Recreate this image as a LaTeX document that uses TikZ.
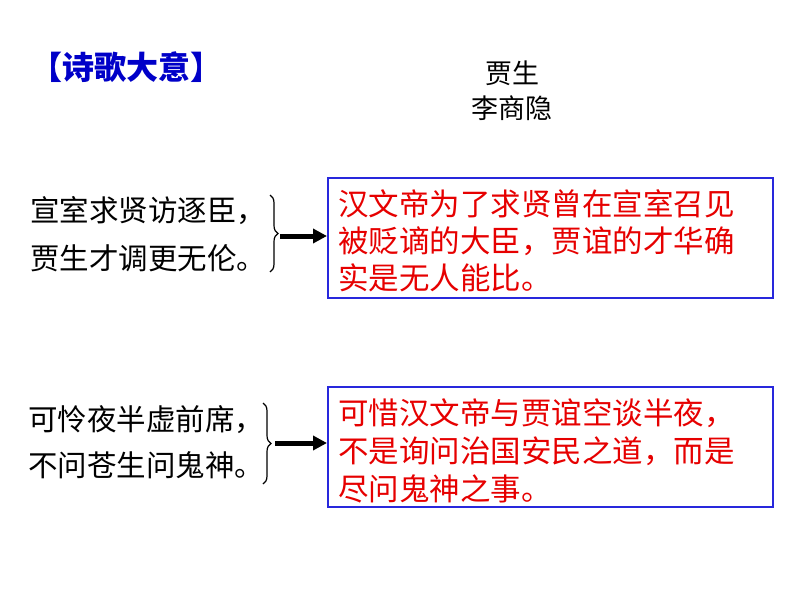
\documentclass[tikz,border=0pt]{standalone}
\usepackage{fontspec}
\setmainfont{Noto Sans CJK SC}
\usetikzlibrary{decorations.pathreplacing,arrows.meta}
\begin{document}
\begin{tikzpicture}[x=1pt,y=-1pt,
  txt/.style={anchor=west,inner sep=0pt,font=\fontsize{29.5}{31}\selectfont},
  red/.style={txt,text={rgb,255:red,230;green,0;blue,0},font=\fontsize{30.5}{32}\selectfont},
  box/.style={draw={rgb,255:red,40;green,40;blue,220},line width=1.5pt},
  br/.style={decorate,decoration={brace,amplitude=8pt},line width=1.2pt},
  arr/.style={line width=5pt,-{Triangle[length=14pt,width=14pt]}}]
\useasboundingbox (0,0) rectangle (794,596);
\node[txt,text={rgb,255:red,0;green,0;blue,200},font=\fontsize{32}{34}\selectfont\bfseries] (title) at (30,67) {【诗歌大意】};
\node[inner sep=0pt,font=\fontsize{27}{29}\selectfont] (t1) at (512,73) {贾生};
\node[inner sep=0pt,font=\fontsize{27}{29}\selectfont] (t2) at (512,108) {李商隐};
\node[txt] (l1) at (30,211) {宣室求贤访逐臣，};
\node[txt] (l2) at (30,258) {贾生才调更无伦。};
\draw[box] (328,178) rectangle (773,298);
\node[red] (r1) at (338,204) {汉文帝为了求贤曾在宣室召见};
\node[red] (r2) at (338,241) {被贬谪的大臣，贾谊的才华确};
\node[red] (r3) at (338,278) {实是无人能比。};
\coordinate (b1a) at (270,195); \coordinate (b1b) at (270,272);
\draw[br] (b1a) -- (b1b);
\coordinate (a1s) at (280,236); \coordinate (a1e) at (327,236);
\draw[arr] (a1s) -- (a1e);
\node[txt] (l3) at (28,420) {可怜夜半虚前席，};
\node[txt] (l4) at (28,465) {不问苍生问鬼神。};
\draw[box] (328,387) rectangle (773,507);
\node[red] (r4) at (338,413) {可惜汉文帝与贾谊空谈半夜，};
\node[red] (r5) at (338,451) {不是询问治国安民之道，而是};
\node[red] (r6) at (338,489) {尽问鬼神之事。};
\coordinate (b2a) at (263,403); \coordinate (b2b) at (263,484);
\draw[br] (b2a) -- (b2b);
\coordinate (a2s) at (275,443); \coordinate (a2e) at (327,443);
\draw[arr] (a2s) -- (a2e);
\end{tikzpicture}
\end{document}
